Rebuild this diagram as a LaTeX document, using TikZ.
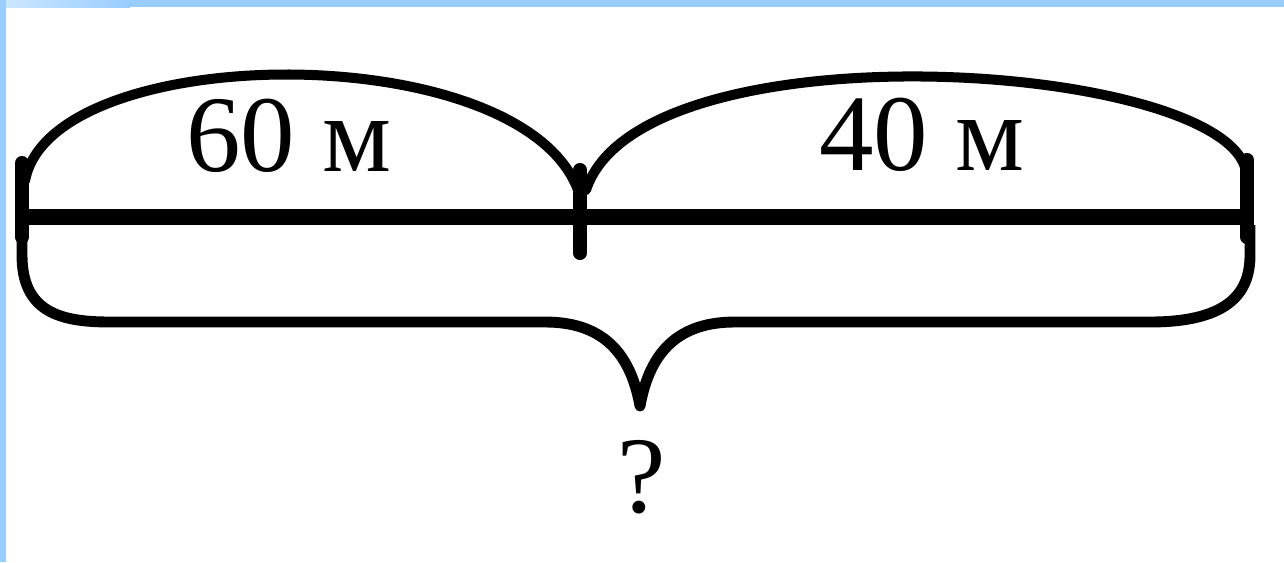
\documentclass[tikz,border=0pt]{standalone}
\usepackage{fontspec}
\setmainfont{Liberation Serif}
\usepackage{xcolor}
\usepackage{tikz}
\usetikzlibrary{calc}
\definecolor{ramka}{RGB}{153,204,255}
\definecolor{ramkasvet}{RGB}{205,232,255}

\begin{document}
\begin{tikzpicture}[
  x=0.02cm, y=-0.02cm,
  otr/.style  = {line width=9.5pt},
  tck/.style  = {line width=8pt, line cap=round},
  dug/.style  = {line width=5.7pt, line cap=round},
  skob/.style = {line width=6.2pt, line join=round},
  lbl/.style  = {font=\fontsize{62}{64}\selectfont, inner sep=0pt, anchor=base}
]
\useasboundingbox (0,0) rectangle (1284,562);

% Рамка
\fill[white] (0,0) rectangle (1284,562);
\fill[ramka] (0,0) rectangle (1284,7);
\shade[left color=ramkasvet, right color=ramka] (0,0) rectangle (130,7);
\fill[ramka] (0,0) rectangle (6,562);

% Концы отрезка и острие скобки
\coordinate (A) at (22,217);
\coordinate (B) at (580,217);
\coordinate (C) at (1247,217);
\coordinate (T) at (640,406);

% Отрезок и засечки
\draw[otr] (A) -- (C);
\draw[tck] ($(A)+(0,-54)$) -- ($(A)+(0,20)$);
\draw[tck] ($(B)+(0,-47)$) -- ($(B)+(0,36)$);
\draw[tck] ($(C)+(0,-57)$) -- ($(C)+(0,20)$);

% Дуги сверху
\draw[dug] ($(A)+(3,-36)$) .. controls (50,40) and (520,35) .. ($(B)+(-2,-27)$);
\draw[dug] ($(B)+(6,-27)$) .. controls (640,25) and (1210,60) .. ($(C)+(-2,-50)$);

% Скобка снизу
\draw[skob] ($(A)+(0,8)$) -- (22,255)
  .. controls (22,312) and (60,322) .. (110,322) -- (545,322)
  .. controls (600,322) and (630,350) .. (T)
  .. controls (650,350) and (680,322) .. (735,322) -- (1150,322)
  .. controls (1232,322) and (1250,290) .. (1250,255) -- ($(C)+(3,8)$);

% Подписи
\node[lbl] (l60) at (289,171) {60 м};
\node[lbl] (l40) at (922,170) {40 м};
\node[lbl] (vopr) at (642,512) {?};

\end{tikzpicture}
\end{document}
